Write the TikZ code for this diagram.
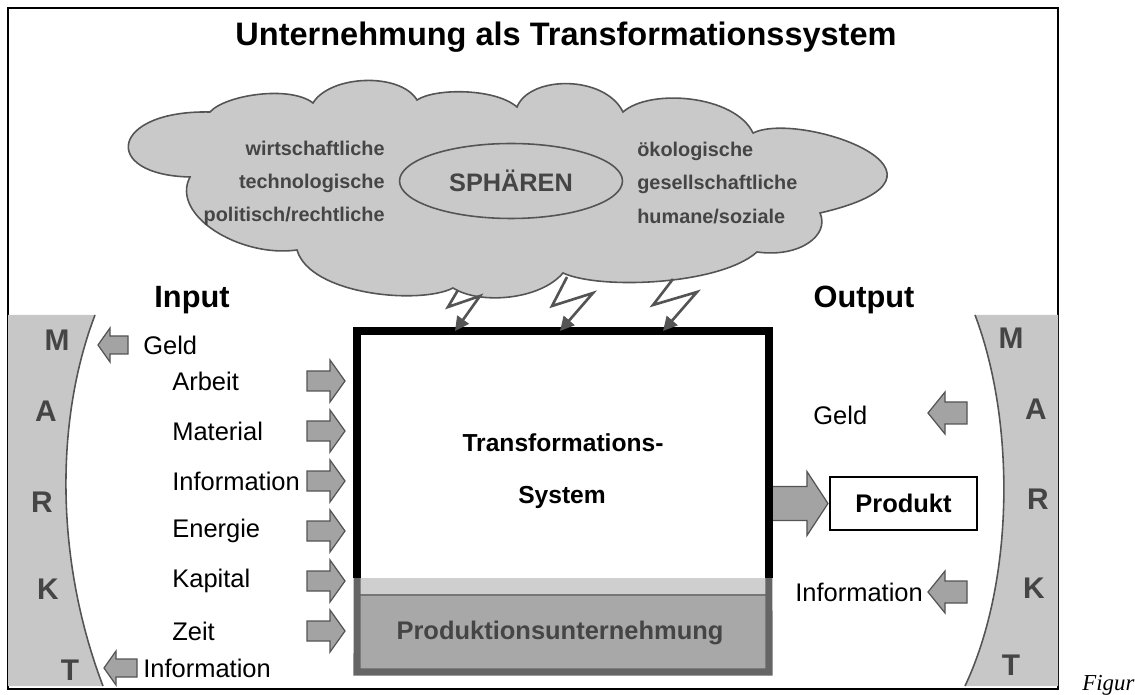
\documentclass[tikz,border=0pt]{standalone}
\usepackage{fontspec}
\setmainfont{Liberation Sans}
\newfontfamily\figfont{Liberation Serif}
\usetikzlibrary{shapes.geometric, arrows.meta}

\definecolor{cloudgray}{gray}{0.79}
\definecolor{bandgray}{gray}{0.78}
\definecolor{arrowgray}{gray}{0.64}
\definecolor{linegray}{gray}{0.33}
\definecolor{textgray}{gray}{0.27}
\definecolor{stripgray}{gray}{0.81}
\definecolor{basegray}{gray}{0.66}

\tikzset{
  blockarrow/.style={draw=linegray, fill=arrowgray, line width=0.7pt},
  pics/barrow/.style n args={4}{code={
      \draw[blockarrow] (0,-#3) -- ({#1-#2},-#3) -- ({#1-#2},-#4) -- (#1,0)
        -- ({#1-#2},#4) -- ({#1-#2},#3) -- (0,#3) -- cycle;}},
  cloudshape/.style={draw=linegray, fill=cloudgray, line width=0.9pt},
  spheretext/.style={font=\fontsize{11.3}{18.8}\selectfont\bfseries, text=textgray, inner sep=0pt},
  marktletter/.style={font=\fontsize{17}{20}\selectfont\bfseries, text=textgray, inner sep=0pt},
  flowlabel/.style={font=\fontsize{14.5}{17}\selectfont, anchor=west, inner sep=0pt},
  headline/.style={font=\fontsize{17.5}{21}\selectfont\bfseries, inner sep=0pt},
  bolt/.style={draw=linegray, line width=1.5pt, line join=miter,
    -{Triangle[length=8pt, width=8pt]}},
}

\begin{document}
\begin{tikzpicture}[x=0.02cm, y=-0.02cm]
  \useasboundingbox (0,0) rectangle (1135,695);
  % frame
  \draw[line width=0.9pt] (8,8) rectangle (1058,689);
  \node[font=\fontsize{18.5}{22}\selectfont\bfseries] (title) at (566,37)
    {Unternehmung als Transformationssystem};

  % Markt, left and right
  \fill[bandgray] (8,315) -- (95,315) .. controls (55,420) and (55,560) .. (103,686)
    -- (8,686) -- cycle;
  \draw[linegray, line width=0.9pt] (95,315) .. controls (55,420) and (55,560) .. (103,686);
  \fill[bandgray] (975,315) .. controls (1015,420) and (1015,580) .. (965,686)
    -- (1058,686) -- (1058,315) -- cycle;
  \draw[linegray, line width=0.9pt] (975,315) .. controls (1015,420) and (1015,580) .. (965,686);
  \foreach \ch/\x/\y [count=\i] in {M/57/340, A/46/411, R/42/502, K/48/589, T/70/670}
    \node[marktletter] (ml\i) at (\x,\y) {\ch};
  \foreach \ch/\x/\y [count=\i] in {M/1011/338, A/1036/409, R/1038/499, K/1034/588, T/1011/665}
    \node[marktletter] (mr\i) at (\x,\y) {\ch};

  % cloud
  \draw[cloudshape] (210,112) .. controls (225,95) and (290,85) .. (313,103)
    .. controls (330,75) and (400,72) .. (417,100)
    .. controls (435,88) and (495,88) .. (517,107)
    .. controls (530,75) and (605,75) .. (623,112)
    .. controls (650,88) and (735,95) .. (753,133)
    .. controls (800,110) and (985,175) .. (820,213)
    .. controls (830,235) and (800,258) .. (757,252)
    .. controls (720,285) and (600,290) .. (563,273)
    .. controls (540,300) and (480,305) .. (453,288)
    .. controls (420,305) and (310,295) .. (297,250)
    .. controls (240,258) and (170,215) .. (190,177)
    .. controls (100,175) and (110,110) .. (210,112) -- cycle;
  \node[ellipse, draw=linegray, line width=0.9pt, minimum width=4.46cm,
    minimum height=1.5cm, font=\fontsize{14.4}{17}\selectfont\bfseries,
    text=textgray] (sph) at (511,181) {SPHÄREN};
  \node[spheretext, align=right, anchor=east] (spl) at (385,183)
    {wirtschaftliche\\technologische\\politisch/rechtliche};
  \node[spheretext, align=left, anchor=west] (spr) at (637,183)
    {ökologische\\gesellschaftliche\\humane/soziale};

  \node[headline] (inp) at (192,300) {Input};
  \node[headline] (outp) at (864,300) {Output};

  % input side
  \pic[xscale=-1] at (128,345) {barrow={30}{12}{9}{17}};
  \node[flowlabel] (geldin) at (143,345) {Geld};
  \pic[xscale=-1] at (137,668) {barrow={33}{12}{9}{17}};
  \node[flowlabel] (infoin) at (143,668) {Information};
  \foreach \lab [count=\i] in {Arbeit,Material,Information,Energie,Kapital,Zeit}{
    \node[flowlabel] (in\i) at (172,{331+50*\i}) {\lab};
    \pic at (307,{331+50*\i}) {barrow={38}{15}{10}{21}};
  }

  % transformation system
  \node[minimum width=8.24cm, minimum height=4.94cm, inner sep=0pt, outer sep=0pt]
    (sys) at (563,454.5) {};
  \node[draw, line width=0.9pt, minimum width=2.94cm, minimum height=1.06cm,
    font=\fontsize{14.5}{17}\selectfont\bfseries] (prod) at (903.5,503.5) {Produkt};
  \pic at (sys.east |- prod.west) {barrow={59}{21}{17}{32}};
  \fill[stripgray] (sys.south west) rectangle (769,672);
  \fill[basegray] (357,595) rectangle (769,672);
  \draw[linegray!80, line width=0.9pt] (357,595) -- (769,595);
  \draw[linegray!90, line width=4pt] (sys.south west) -- (357,672) -- (769,672) -- (sys.south east);
  \draw[line width=5pt] (sys.south west) -- (sys.north west) -- (sys.north east) -- (sys.south east);
  \node[font=\fontsize{14}{17}\selectfont\bfseries] (trf) at (563,443) {Transformations-};
  \node[font=\fontsize{14}{17}\selectfont\bfseries] (syst) at (562,497) {System};
  \node[font=\fontsize{14.5}{17}\selectfont\bfseries, text=textgray] (pu) at (560,633)
    {Produktionsunternehmung};

  % spheres act on the system
  \foreach \tx/\ty/\lx/\ly/\rx/\ry/\ex in {458/290/448/307/480/296/455,
      567/277/552/306/593/293/560, 673/279/653/305/697/292/663}
    \draw[bolt] (\tx,\ty) -- (\lx,\ly) -- (\rx,\ry) -- (\ex,0 |- sys.north);

  % output side
  \node[flowlabel] (geldout) at (813,415) {Geld};
  \pic[xscale=-1] at (967,413) {barrow={39}{17}{11}{21}};
  \node[flowlabel] (infoout) at (795,592) {Information};
  \pic[xscale=-1] at (967,592) {barrow={39}{17}{11}{21}};

  \node[font=\figfont\itshape\fontsize{13}{15}\selectfont, anchor=base west,
    inner sep=0pt] (fig) at (1082,690) {Figur};
\end{tikzpicture}
\end{document}
